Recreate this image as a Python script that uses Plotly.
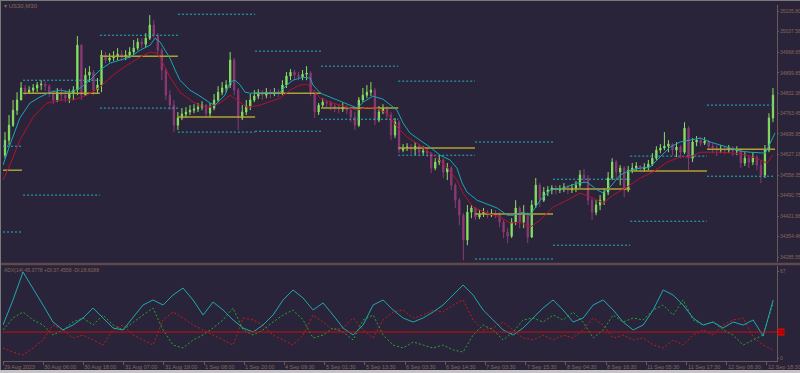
import plotly.graph_objects as go

# ---------------- data ----------------
first_open = 34625
closes = [
    34675, 34725, 34775, 34809, 34849, 34835, 34842, 34849, 34859, 34862,
    34855, 34832, 34809, 34835, 34825, 34815, 34832, 34842, 34992, 34825,
    34892, 34902, 34842, 34859, 34959, 34942, 34949, 34955, 34962, 34952,
    34959, 34969, 34982, 35002, 34995, 35015, 35059, 35025, 34975, 34909,
    34825, 34792, 34725, 34749, 34762, 34769, 34775, 34779, 34785, 34792,
    34765, 34782, 34809, 34835, 34849, 34859, 34942, 34842, 34749, 34769,
    34789, 34809, 34822, 34832, 34825, 34835, 34829, 34835, 34832, 34859,
    34889, 34902, 34892, 34885, 34895, 34899, 34835, 34769, 34792, 34802,
    34799, 34789, 34782, 34779, 34785, 34775, 34752, 34725, 34809, 34825,
    34835, 34842, 34742, 34769, 34782, 34759, 34692, 34735, 34642, 34649,
    34652, 34645, 34655, 34635, 34639, 34632, 34582, 34602, 34609, 34569,
    34582, 34525, 34475, 34425, 34342, 34435, 34449, 34419, 34429, 34435,
    34425, 34432, 34429, 34402, 34369, 34355, 34402, 34449, 34402, 34425,
    34352, 34459, 34525, 34475, 34502, 34509, 34515, 34509, 34512, 34519,
    34509, 34515, 34525, 34559, 34549, 34475, 34435, 34459, 34475, 34502,
    34549, 34602, 34569, 34582, 34509, 34575, 34582, 34589, 34579, 34585,
    34595, 34615, 34642, 34649, 34655, 34662, 34642, 34652, 34635, 34715,
    34615, 34669, 34675, 34665, 34672, 34655, 34649, 34642, 34645, 34642,
    34649, 34639, 34642, 34599, 34615, 34602, 34619, 34592, 34559, 34642,
    34749, 34825,
]
highs = [
    34702, 34759, 34809, 34835, 34869, 34859, 34855, 34862, 34869, 34875,
    34872, 34862, 34842, 34849, 34849, 34842, 34845, 34855, 35022, 34995,
    34915, 34922, 34909, 34882, 34975, 34969, 34965, 34972, 34982, 34975,
    34975, 34985, 35009, 35015, 35015, 35032, 35092, 35075, 35032, 34982,
    34915, 34842, 34809, 34769, 34782, 34785, 34792, 34795, 34799, 34805,
    34795, 34799, 34829, 34855, 34869, 34875, 34969, 34949, 34849, 34792,
    34809, 34829, 34842, 34845, 34842, 34849, 34845, 34849, 34845, 34875,
    34902, 34912, 34909, 34902, 34909, 34922, 34905, 34842, 34799, 34815,
    34809, 34805, 34799, 34795, 34799, 34792, 34782, 34769, 34819, 34849,
    34859, 34869, 34849, 34789, 34795, 34789, 34769, 34749, 34742, 34662,
    34665, 34662, 34669, 34662, 34655, 34649, 34635, 34615, 34625, 34615,
    34599, 34589, 34532, 34482, 34432, 34459, 34459, 34452, 34442, 34449,
    34442, 34445, 34442, 34435, 34409, 34382, 34415, 34475, 34455, 34459,
    34435, 34475, 34549, 34532, 34519, 34522, 34525, 34525, 34525, 34532,
    34525, 34529, 34539, 34575, 34579, 34559, 34482, 34475, 34492, 34515,
    34569, 34615, 34609, 34592, 34589, 34589, 34599, 34602, 34592, 34599,
    34609, 34632, 34655, 34662, 34702, 34675, 34665, 34669, 34659, 34735,
    34722, 34682, 34689, 34685, 34685, 34675, 34665, 34659, 34659, 34655,
    34659, 34655, 34655, 34649, 34635, 34625, 34635, 34625, 34609, 34659,
    34765, 34849,
]
lows = [
    34615, 34659, 34719, 34759, 34809, 34825, 34829, 34832, 34835, 34842,
    34839, 34819, 34795, 34802, 34805, 34802, 34799, 34809, 34825, 34809,
    34825, 34869, 34825, 34829, 34835, 34932, 34935, 34939, 34942, 34939,
    34942, 34949, 34959, 34975, 34982, 34985, 35009, 35015, 34959, 34875,
    34809, 34775, 34702, 34709, 34742, 34749, 34759, 34765, 34769, 34775,
    34749, 34752, 34775, 34802, 34825, 34835, 34849, 34825, 34709, 34742,
    34759, 34775, 34802, 34812, 34809, 34815, 34815, 34822, 34819, 34825,
    34849, 34875, 34879, 34875, 34875, 34875, 34822, 34749, 34759, 34785,
    34782, 34775, 34769, 34765, 34769, 34762, 34735, 34709, 34719, 34802,
    34815, 34822, 34725, 34735, 34762, 34742, 34675, 34682, 34632, 34635,
    34639, 34629, 34625, 34622, 34625, 34619, 34565, 34575, 34592, 34549,
    34542, 34509, 34449, 34392, 34275, 34325, 34415, 34409, 34412, 34419,
    34415, 34419, 34415, 34385, 34349, 34332, 34349, 34392, 34382, 34382,
    34332, 34349, 34449, 34452, 34469, 34489, 34495, 34495, 34499, 34502,
    34495, 34499, 34502, 34515, 34535, 34459, 34409, 34425, 34442, 34459,
    34492, 34542, 34542, 34525, 34485, 34502, 34565, 34572, 34569, 34569,
    34575, 34589, 34609, 34632, 34642, 34635, 34625, 34619, 34615, 34629,
    34575, 34602, 34655, 34655, 34659, 34642, 34632, 34622, 34632, 34629,
    34632, 34622, 34625, 34582, 34589, 34582, 34592, 34575, 34532, 34549,
    34635, 34735,
]

# moving averages (bar position, price)
ma_fast_pos = [
    0.0, 1.7, 4.2, 6.7, 9.2, 11.7, 14.2, 16.7, 19.2, 21.6,
    24.1, 26.6, 29.1, 31.6, 34.1, 36.6, 37.8, 39.1, 40.3, 41.5,
    42.8, 44.0, 46.5, 49.0, 51.5, 52.7, 54.0, 55.2, 56.5, 57.7,
    59.0, 60.2, 61.4, 63.9, 68.9, 70.6, 72.1, 74.6, 76.4, 77.1,
    78.9, 81.3, 84.6, 88.1, 89.6, 92.0, 94.5, 96.3, 98.0, 99.5,
    101.2, 103.7, 106.2, 108.7, 111.2, 112.9, 114.2, 115.4, 117.9, 120.4,
    122.9, 125.4, 126.9, 129.4, 131.1, 133.6, 136.1, 139.3, 142.8, 145.3,
    147.8, 149.3, 151.0, 153.5, 156.0, 158.5, 160.9, 163.4, 165.9, 168.4,
    170.9, 173.4, 175.9, 178.4, 180.8, 183.3, 185.8, 188.3, 189.6, 190.8,
    192.0,
]
ma_fast = [
    34592, 34659, 34749, 34799, 34819, 34835, 34842, 34835, 34849, 34875,
    34909, 34932, 34942, 34952, 34975, 34992, 35015, 35002, 34975, 34949,
    34909, 34875, 34842, 34822, 34799, 34792, 34809, 34825, 34869, 34875,
    34859, 34835, 34832, 34832, 34835, 34859, 34875, 34885, 34882, 34859,
    34832, 34819, 34802, 34782, 34802, 34822, 34812, 34792, 34775, 34732,
    34699, 34675, 34652, 34625, 34609, 34582, 34532, 34502, 34475, 34462,
    34449, 34425, 34425, 34435, 34425, 34475, 34509, 34515, 34532, 34535,
    34509, 34499, 34519, 34559, 34575, 34582, 34585, 34619, 34652, 34669,
    34675, 34682, 34669, 34659, 34649, 34639, 34635, 34632, 34632, 34665,
    34699,
]
ma_slow_pos = [
    0.0, 1.7, 4.2, 7.5, 10.9, 14.2, 17.4, 20.9, 24.1, 27.4,
    30.8, 34.1, 36.6, 38.3, 39.8, 41.5, 44.0, 47.3, 50.7, 54.0,
    56.5, 58.2, 60.7, 63.9, 68.9, 71.4, 73.9, 75.6, 77.1, 78.9,
    82.1, 85.6, 88.1, 90.5, 93.0, 95.5, 98.0, 100.5, 103.7, 107.0,
    110.4, 112.9, 114.4, 116.9, 120.4, 123.6, 126.1, 128.6, 131.1, 133.6,
    136.8, 140.3, 143.5, 146.8, 149.3, 151.7, 155.2, 158.5, 161.7, 165.2,
    168.4, 170.9, 173.4, 175.9, 178.4, 181.6, 185.1, 188.3, 190.0, 191.5,
]
ma_slow = [
    34542, 34592, 34675, 34752, 34799, 34809, 34809, 34825, 34852, 34892,
    34925, 34952, 34969, 34965, 34932, 34885, 34835, 34802, 34782, 34799,
    34825, 34809, 34785, 34792, 34815, 34842, 34859, 34862, 34842, 34815,
    34799, 34785, 34775, 34785, 34782, 34765, 34719, 34685, 34659, 34625,
    34585, 34542, 34499, 34452, 34432, 34419, 34399, 34402, 34385, 34409,
    34452, 34475, 34499, 34482, 34465, 34492, 34519, 34549, 34569, 34602,
    34619, 34619, 34635, 34635, 34635, 34632, 34625, 34609, 34599, 34625,
]

# daily levels: session start/end (bar position), open, previous high/low
day_start = [0.0, 5.0, 24.1, 43.5, 62.7, 79.1, 98.3, 117.4, 136.8, 156.0, 175.1]
day_end = [4.7, 24.1, 43.5, 62.7, 79.1, 98.3, 117.4, 136.8, 156.0, 175.1, 192.0]
day_open = [34575, 34832, 34955, 34752, 34832, 34782, 34649, 34429, 34512, 34572, 34645]
prev_high = [34655, 34875, 35025, 35095, 34972, 34922, 34872, 34669, 34545, 34622, 34792]
prev_low = [34369, 34492, 34782, 34702, 34705, 34745, 34625, 34279, 34325, 34405, 34555]

# ADX(14) panel
adx = [
    25.4, 44.7, 66.2, 53.9, 40.8, 27.7, 21.6, 25.4, 30.8, 38.5,
    30.8, 23.1, 21.6, 30.8, 40.8, 44.7, 40.8, 48.5, 53.9, 44.7,
    33.1, 43.1, 37.0, 29.3, 23.1, 20.0, 25.4, 33.1, 44.7, 52.4,
    46.2, 37.0, 42.4, 33.1, 23.1, 17.7, 25.4, 40.8, 44.7, 37.0,
    30.8, 27.7, 30.8, 35.4, 40.8, 48.5, 56.2, 48.5, 37.0, 29.3,
    21.6, 17.7, 23.1, 30.8, 38.5, 44.7, 37.0, 27.7, 30.8, 40.8,
    44.7, 37.0, 27.7, 21.6, 25.4, 37.0, 52.4, 48.5, 40.8, 30.8,
    25.4, 27.7, 23.1, 27.7, 25.4, 29.3, 16.9, 44.7,
]
plus_di = [
    21.6, 30.8, 35.4, 29.3, 25.4, 17.7, 21.6, 27.7, 30.8, 25.4,
    33.1, 25.4, 21.6, 27.7, 33.1, 38.5, 21.6, 10.0, 7.7, 13.9,
    17.7, 23.1, 29.3, 38.5, 21.6, 17.7, 21.6, 27.7, 33.1, 37.0,
    29.3, 15.4, 17.7, 23.1, 20.0, 13.9, 29.3, 33.1, 17.7, 10.0,
    7.7, 12.3, 10.0, 7.7, 10.0, 6.2, 4.6, 17.7, 25.4, 21.6,
    13.9, 20.0, 29.3, 30.8, 27.7, 33.1, 29.3, 35.4, 27.7, 15.4,
    21.6, 33.1, 27.7, 30.8, 29.3, 37.0, 40.8, 33.1, 44.7, 29.3,
    25.4, 27.7, 21.6, 17.7, 10.0, 13.9, 17.7, 42.4,
]
minus_di = [
    7.7, 4.6, 2.3, 7.7, 13.9, 25.4, 21.6, 15.4, 17.7, 13.9,
    10.0, 21.6, 25.4, 17.7, 13.9, 10.0, 29.3, 35.4, 30.8, 25.4,
    21.6, 17.7, 13.9, 10.0, 30.8, 29.3, 25.4, 17.7, 13.9, 10.0,
    17.7, 33.1, 27.7, 21.6, 23.1, 30.8, 21.6, 15.4, 29.3, 35.4,
    37.0, 30.8, 33.1, 37.0, 35.4, 40.8, 44.7, 29.3, 21.6, 23.1,
    27.7, 21.6, 15.4, 13.9, 17.7, 13.9, 17.7, 15.4, 21.6, 30.8,
    25.4, 15.4, 17.7, 13.9, 15.4, 10.0, 7.7, 13.9, 10.0, 17.7,
    21.6, 17.7, 25.4, 29.3, 30.8, 16.2, 10.0, 6.2,
]
adx_level = 20

price_ticks = [35105.80, 35037.58, 34968.65, 34899.85, 34832.38, 34763.45, 34695.95,
               34627.18, 34558.35, 34490.75, 34421.88, 34354.48, 34285.55]
price_tick_text = ["35105.80", "35037.58", "34968.65", "34899.85", "34832.38", "34763.45",
                   "34695.95", "34627.18", "34558.35", "34490.75", "34421.88", "34354.48",
                   "34285.55"]
time_labels = ["29 Aug 2023", "30 Aug 06:00", "30 Aug 18:00", "31 Aug 07:00", "31 Aug 19:00",
               "1 Sep 08:00", "1 Sep 20:00", "4 Sep 09:30", "5 Sep 01:30", "5 Sep 13:30",
               "6 Sep 03:30", "6 Sep 14:30", "7 Sep 03:30", "7 Sep 15:30", "8 Sep 04:30",
               "8 Sep 16:30", "11 Sep 05:30", "11 Sep 17:30", "12 Sep 06:30", "12 Sep 18:30"]
time_label_pos = [10 * k for k in range(len(time_labels))]

# ---------------- style ----------------
BG = "#29243a"
AX = "#6a5a5c"
TXT = "#8a6658"
UP = "#86e060"
DOWN = "#8c3a74"
CYAN = "#1aa6b8"
RED = "#b3122e"
GOLD = "#b0a030"
DOTC = "#22b4c6"
FONT = "Liberation Sans"

opens = [first_open] + closes[:-1]
cx = [i + 0.5 for i in range(len(closes))]
adx_pos = [k * 2.4876 for k in range(len(adx))]

fig = go.Figure()


def seg(values, color, dash, width):
    xs, ys = [], []
    for s, e, v in zip(day_start, day_end, values):
        xs += [s, e, None]
        ys += [v, v, None]
    return go.Scatter(x=xs, y=ys, mode="lines", xaxis="x", yaxis="y",
                      line=dict(color=color, width=width, dash=dash),
                      hoverinfo="skip", showlegend=False)


fig.add_trace(seg(prev_high, DOTC, "2px,2px", 1))
fig.add_trace(seg(prev_low, DOTC, "2px,2px", 1))
fig.add_trace(seg(day_open, GOLD, "solid", 1.5))

fig.add_trace(go.Scatter(x=ma_slow_pos, y=ma_slow, mode="lines", xaxis="x", yaxis="y",
                         line=dict(color=RED, width=1), hoverinfo="skip", showlegend=False))
fig.add_trace(go.Scatter(x=ma_fast_pos, y=ma_fast, mode="lines", xaxis="x", yaxis="y",
                         line=dict(color=CYAN, width=1), hoverinfo="skip", showlegend=False))

fig.add_trace(go.Candlestick(
    x=cx, open=opens, high=highs, low=lows, close=closes, xaxis="x", yaxis="y",
    increasing=dict(line=dict(color=UP, width=1), fillcolor=UP),
    decreasing=dict(line=dict(color=DOWN, width=1), fillcolor=DOWN),
    whiskerwidth=0, hoverinfo="skip", showlegend=False))

# ADX panel
fig.add_trace(go.Scatter(x=adx_pos, y=minus_di, mode="lines", xaxis="x2", yaxis="y2",
                         line=dict(color="#c81a1a", width=1, dash="2px,2px"),
                         hoverinfo="skip", showlegend=False))
fig.add_trace(go.Scatter(x=adx_pos, y=plus_di, mode="lines", xaxis="x2", yaxis="y2",
                         line=dict(color="#22a82e", width=1, dash="2px,2px"),
                         hoverinfo="skip", showlegend=False))
fig.add_trace(go.Scatter(x=adx_pos, y=adx, mode="lines", xaxis="x2", yaxis="y2",
                         line=dict(color="#20a8b0", width=1),
                         hoverinfo="skip", showlegend=False))

# layout geometry (px)
L, R, T, B = 3, 23, 5, 12
PH = 373 - T - B


def py(px):
    return (373 - B - px) / PH


def pxx(px):
    return (px - L) / (800 - L - R)


fig.update_layout(
    width=800, height=373,
    margin=dict(l=L, r=R, t=T, b=B, autoexpand=False),
    paper_bgcolor=BG, plot_bgcolor=BG,
    showlegend=False, boxgap=0.55,
    font=dict(family=FONT, color=TXT, size=6),
    xaxis=dict(domain=[0, 1], range=[0, 192.5], anchor="y", showticklabels=False,
               showgrid=False, zeroline=False, showline=False, ticks="",
               rangeslider=dict(visible=False)),
    xaxis2=dict(domain=[0, 1], range=[0, 192.5], anchor="y2", matches="x",
                showticklabels=False, showgrid=False, zeroline=False, showline=True,
                linecolor=AX, linewidth=1, ticks="outside", ticklen=3, tickcolor=AX,
                tickvals=time_label_pos, rangeslider=dict(visible=False)),
    yaxis=dict(domain=[py(262), 1], range=[34269.0, 35125.8], side="right", anchor="x",
               showgrid=False, zeroline=False, showline=True, linecolor=AX, linewidth=1,
               ticks="outside", ticklen=1, tickcolor=AX,
               tickvals=price_ticks, ticktext=price_tick_text,
               tickfont=dict(size=5, color=TXT, family=FONT)),
    yaxis2=dict(domain=[0, py(266)], range=[-2.31, 70.85], side="right", anchor="x2",
                showgrid=False, zeroline=False, showline=True, linecolor=AX, linewidth=1,
                ticks="outside", ticklen=1, tickcolor=AX,
                tickvals=[0, 67], ticktext=["0", "67"],
                tickfont=dict(size=5, color=TXT, family=FONT)),
)

shapes = [
    dict(type="line", xref="x2 domain", yref="y2", x0=0, x1=1, y0=adx_level, y1=adx_level,
         line=dict(color="#c81010", width=1)),
    dict(type="line", xref="paper", yref="paper", x0=pxx(0), x1=pxx(800), y0=py(264), y1=py(264),
         line=dict(color="#5e4a4c", width=2.5)),
    dict(type="line", xref="paper", yref="paper", x0=pxx(0.5), x1=pxx(0.5), y0=py(370), y1=py(0),
         line=dict(color="#7a7a7a", width=1)),
    dict(type="line", xref="paper", yref="paper", x0=pxx(0), x1=pxx(800), y0=py(0.5), y1=py(0.5),
         line=dict(color="#7a7a7a", width=1)),
    dict(type="rect", xref="paper", yref="paper", x0=pxx(0), x1=pxx(800), y0=py(373), y1=py(370),
         fillcolor="#c4c4c4", line=dict(width=0)),
]
fig.update_layout(shapes=shapes)

annotations = [
    dict(text="▾ US30,M30", xref="paper", yref="paper", x=pxx(3), y=py(2),
         xanchor="left", yanchor="top", showarrow=False,
         font=dict(size=6, color=TXT, family=FONT), borderpad=0),
    dict(text="ADX(14) 45.3778 +DI:37.4558 -DI:28.6088", xref="paper", yref="paper",
         x=pxx(3), y=py(266), xanchor="left", yanchor="top", showarrow=False,
         font=dict(size=5, color=TXT, family=FONT), borderpad=0),
    dict(text="20", xref="paper", yref="y2", x=pxx(777), y=adx_level,
         xanchor="left", yanchor="middle", showarrow=False, bgcolor="#e80000",
         font=dict(size=5, color="#3a0000", family=FONT), borderpad=0),
]
for lab, pos in zip(time_labels, time_label_pos):
    annotations.append(dict(text=lab, xref="x2", yref="paper", x=pos, y=py(362.5),
                            xanchor="left", yanchor="top", showarrow=False,
                            font=dict(size=5.5, color=TXT, family=FONT), borderpad=0))
fig.update_layout(annotations=annotations)

fig.write_html("out.html", config={"displayModeBar": False},
               post_script="document.body.style.margin='0';document.body.style.overflow='hidden';")
